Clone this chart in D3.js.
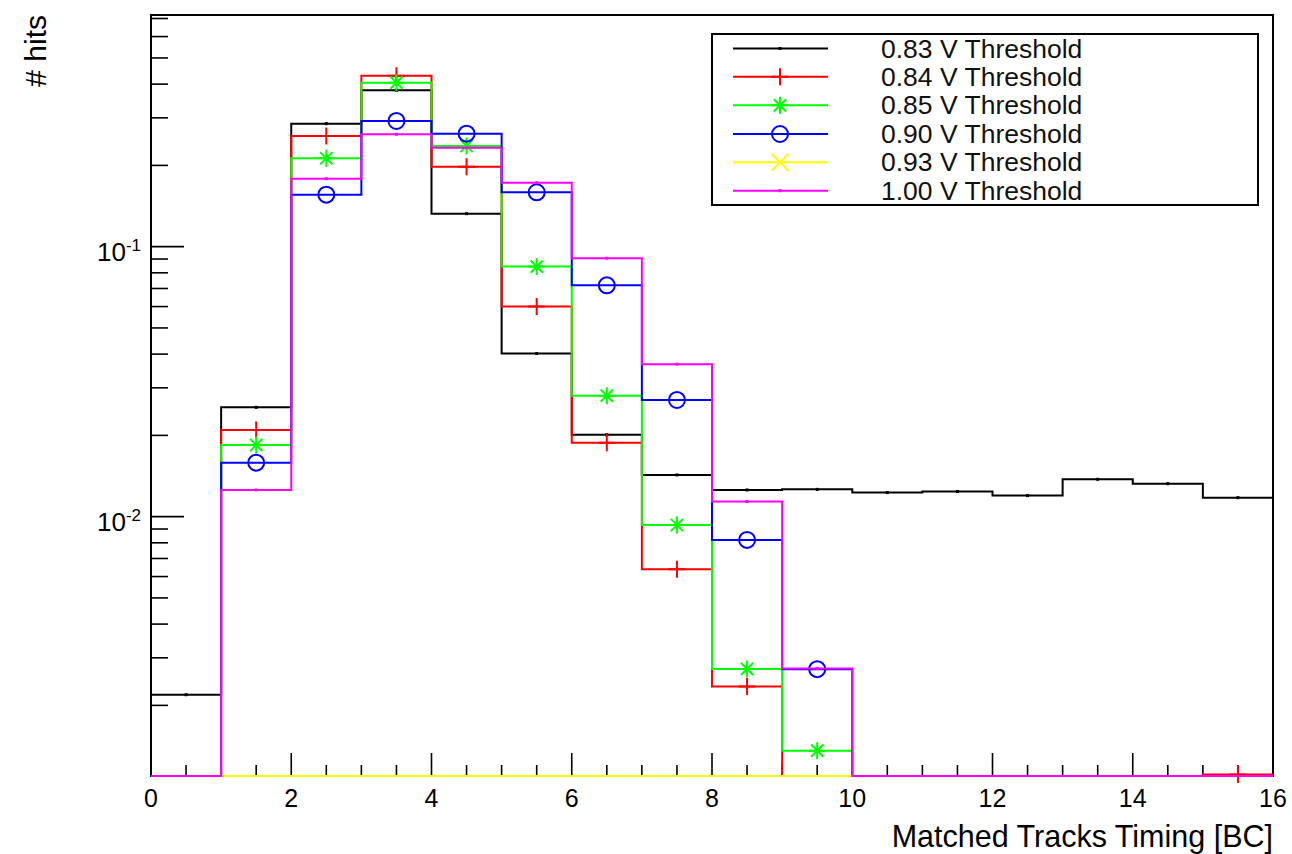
<!DOCTYPE html>
<html>
<head>
<meta charset="utf-8">
<script src="https://cdn.jsdelivr.net/npm/d3@7"></script>
<style>
  html, body { margin: 0; padding: 0; background: #fff; }
  svg { display: block; font-family: "Liberation Sans", Arial, Helvetica, sans-serif; }
</style>
</head>
<body>
<svg id="chart" width="1292" height="854"></svg>
<script>
// ---------- data ----------
const binLow = [0, 1, 2, 3, 4, 5, 6, 7, 8, 9, 10, 11, 12, 13, 14, 15];
const binHigh = [1, 2, 3, 4, 5, 6, 7, 8, 9, 10, 11, 12, 13, 14, 15, 16];

const labels = ["0.83 V Threshold", "0.84 V Threshold", "0.85 V Threshold",
                "0.90 V Threshold", "0.93 V Threshold", "1.00 V Threshold"];
const colors = ["#000000", "#ff0000", "#00ff00", "#0000ff", "#ffff00", "#ff00ff"];
const markers = ["dot", "plus", "star", "circle", "cross", "dot"];

const v083 = [0.00219, 0.0254, 0.2855, 0.3796, 0.1325, 0.0402, 0.0201, 0.01427,
              0.01256, 0.01262, 0.01228, 0.0124, 0.01197, 0.01375, 0.01325, 0.01176];
const v084 = [0, 0.02094, 0.257, 0.430, 0.1978, 0.0600, 0.0188, 0.00638,
              0.002347, 0, 0, 0, 0, 0, 0, 0.00111];
const v085 = [0, 0.01843, 0.2126, 0.405, 0.236, 0.0844, 0.02806, 0.00931,
              0.00273, 0.001359, 0, 0, 0, 0, 0, 0];
const v090 = [0, 0.01585, 0.1558, 0.2921, 0.2622, 0.159, 0.0719, 0.02705,
              0.0082, 0.002724, 0, 0, 0, 0, 0, 0];
const v093 = [0, 0, 0, 0, 0, 0, 0, 0, 0, 0, 0, 0, 0, 0, 0, 0];
const v100 = [0, 0.01256, 0.1786, 0.2608, 0.2326, 0.1726, 0.0906, 0.0367,
              0.01137, 0.00274, 0, 0, 0, 0, 0, 0];

const xTickLabels = [0, 2, 4, 6, 8, 10, 12, 14, 16];
const xMinorTicks = [0.5, 1, 1.5, 2.5, 3, 3.5, 4.5, 5, 5.5, 6.5, 7, 7.5, 8.5, 9, 9.5,
                     10.5, 11, 11.5, 12.5, 13, 13.5, 14.5, 15, 15.5];
const yMajorTicks = [0.1, 0.01];
const yMajorExp = ["-1", "-2"];
const yMinorTicks = [0.002, 0.003, 0.004, 0.005, 0.006, 0.007, 0.008, 0.009,
                     0.02, 0.03, 0.04, 0.05, 0.06, 0.07, 0.08, 0.09,
                     0.2, 0.3, 0.4, 0.5, 0.6, 0.7];
const xDomain = [0, 16];
const yDomain = [0.001095, 0.7212];

const seriesValues = [v083, v084, v085, v090, v093, v100];

// ---------- layout ----------
const L = 151, R = 1273, T = 15, B = 776;
const svg = d3.select("#chart");
const x = d3.scaleLinear().domain(xDomain).range([L, R]);
const y = d3.scaleLog().domain(yDomain).range([B, T]);
const yc = v => y(Math.max(v, yDomain[0]));

// ---------- frame & axes ----------
svg.append("rect").attr("x", L).attr("y", T).attr("width", R - L).attr("height", B - T)
  .attr("fill", "none").attr("stroke", "#000").attr("stroke-width", 2);

const axisG = svg.append("g").attr("stroke", "#000").attr("stroke-width", 1.6);
xTickLabels.forEach(t => {
  axisG.append("line").attr("x1", x(t)).attr("x2", x(t)).attr("y1", B).attr("y2", B - 23);
});
xMinorTicks.forEach(t => {
  axisG.append("line").attr("x1", x(t)).attr("x2", x(t)).attr("y1", B).attr("y2", B - 11);
});
yMajorTicks.forEach(t => {
  axisG.append("line").attr("x1", L).attr("x2", L + 33).attr("y1", y(t)).attr("y2", y(t));
});
yMinorTicks.forEach(t => {
  axisG.append("line").attr("x1", L).attr("x2", L + 17).attr("y1", y(t)).attr("y2", y(t));
});

svg.append("g").selectAll("text").data(xTickLabels).join("text")
  .attr("x", d => x(d)).attr("y", 807)
  .attr("text-anchor", "middle").attr("font-size", 25).attr("fill", "#000")
  .text(d => d);

yMajorTicks.forEach((t, i) => {
  const txt = svg.append("text").attr("x", 141).attr("y", y(t) + 14)
    .attr("text-anchor", "end").attr("font-size", 26).attr("fill", "#000");
  txt.append("tspan").text("10");
  txt.append("tspan").attr("font-size", 17).attr("dy", -10).text(yMajorExp[i]);
});

svg.append("text").attr("x", R).attr("y", 847).attr("text-anchor", "end")
  .attr("font-size", 30.5).attr("fill", "#000").text("Matched Tracks Timing [BC]");
svg.append("text").attr("transform", `translate(46,${T}) rotate(-90)`)
  .attr("text-anchor", "end").attr("font-size", 30).attr("fill", "#000").text("# hits");

// ---------- histograms ----------
function histPoints(vals) {
  const pts = [[xDomain[0], yDomain[0]]];
  vals.forEach((v, i) => {
    pts.push([binLow[i], v]);
    pts.push([binHigh[i], v]);
  });
  pts.push([xDomain[1], yDomain[0]]);
  return pts;
}
const line = d3.line().x(d => x(d[0])).y(d => yc(d[1]));

function drawMarker(g, type, cx, cy, color) {
  const s = 8.5;
  if (type === "dot") {
    g.append("rect").attr("x", cx - 1.5).attr("y", cy - 1.5).attr("width", 3).attr("height", 3)
      .attr("fill", color);
  } else if (type === "plus") {
    g.append("path").attr("d", `M${cx - s},${cy}H${cx + s}M${cx},${cy - s}V${cy + s}`)
      .attr("stroke", color).attr("stroke-width", 2).attr("fill", "none");
  } else if (type === "star") {
    const d = s * 0.72;
    g.append("path").attr("d",
      `M${cx - s},${cy}H${cx + s}M${cx},${cy - s}V${cy + s}` +
      `M${cx - d},${cy - d}L${cx + d},${cy + d}M${cx - d},${cy + d}L${cx + d},${cy - d}`)
      .attr("stroke", color).attr("stroke-width", 2).attr("fill", "none");
  } else if (type === "circle") {
    g.append("circle").attr("cx", cx).attr("cy", cy).attr("r", 8)
      .attr("stroke", color).attr("stroke-width", 2).attr("fill", "none");
  } else if (type === "cross") {
    const d = s;
    g.append("path").attr("d",
      `M${cx - d},${cy - d}L${cx + d},${cy + d}M${cx - d},${cy + d}L${cx + d},${cy - d}`)
      .attr("stroke", color).attr("stroke-width", 2).attr("fill", "none");
  }
}

const plot = svg.append("g");
seriesValues.forEach((vals, si) => {
  const g = plot.append("g");
  g.append("path")
    .attr("d", line(histPoints(vals)))
    .attr("fill", "none")
    .attr("stroke", colors[si])
    .attr("stroke-width", 2);
  vals.forEach((v, i) => {
    if (v > 0) {
      drawMarker(g, markers[si], x((binLow[i] + binHigh[i]) / 2), yc(v), colors[si]);
    }
  });
});

// ---------- legend ----------
const lg = svg.append("g");
lg.append("rect").attr("x", 712).attr("y", 34).attr("width", 546).attr("height", 171)
  .attr("fill", "#fff").attr("stroke", "#000").attr("stroke-width", 2);
const rowY = [48.5, 76.8, 105.3, 134, 162.3, 190.7];
labels.forEach((lab, i) => {
  const ry = rowY[i];
  lg.append("line").attr("x1", 733).attr("x2", 828).attr("y1", ry).attr("y2", ry)
    .attr("stroke", colors[i]).attr("stroke-width", 2);
  drawMarker(lg, markers[i], 780, ry, colors[i]);
  lg.append("text").attr("x", 881).attr("y", ry + 9).attr("font-size", 26.5)
    .attr("fill", "#111").text(lab);
});
</script>
</body>
</html>
